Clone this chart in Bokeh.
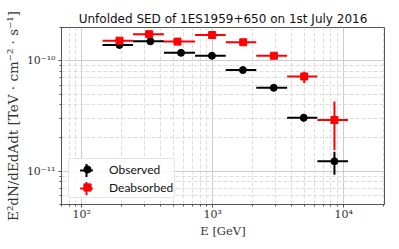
from bokeh.plotting import figure
from bokeh.models import Range1d, FixedTicker, CustomJSTickFormatter, Legend, LegendItem
from bokeh.embed import file_html
from bokeh.resources import INLINE

# ---- data ----
energy_obs = [194, 334, 573, 986, 1700, 2925, 4955, 8500]
energy_deabs = [194, 327, 538, 990, 1710, 2930, 5000, 8500]
e_low = [144, 246, 424, 733, 1257, 2150, 3700, 6300]
e_high = [246, 424, 733, 1257, 2150, 3700, 6300, 10800]

flux_obs = [1.39e-10, 1.50e-10, 1.18e-10, 1.11e-10, 8.23e-11, 5.69e-11, 3.05e-11, 1.23e-11]
flux_obs_low = [1.35e-10, 1.46e-10, 1.15e-10, 1.08e-10, 8.0e-11, 5.5e-11, 2.8e-11, 9.3e-12]
flux_obs_high = [1.43e-10, 1.54e-10, 1.21e-10, 1.14e-10, 8.45e-11, 5.9e-11, 3.3e-11, 1.50e-11]

flux_deabs = [1.52e-10, 1.74e-10, 1.49e-10, 1.71e-10, 1.47e-10, 1.11e-10, 7.21e-11, 2.91e-11]
flux_deabs_low = [1.47e-10, 1.69e-10, 1.45e-10, 1.66e-10, 1.42e-10, 1.04e-10, 6.3e-11, 1.55e-11]
flux_deabs_high = [1.57e-10, 1.79e-10, 1.53e-10, 1.76e-10, 1.52e-10, 1.18e-10, 7.94e-11, 4.27e-11]

x_tick_labels = {"2": "10²", "3": "10³", "4": "10⁴"}
y_tick_labels = {"-11": "10⁻¹¹", "-10": "10⁻¹⁰"}

series_labels = ["Observed", "Deabsorbed"]
title_text = "Unfolded SED of 1ES1959+650 on 1st July 2016"
x_label = "E [GeV]"
y_label = "E²dN/dEdAdt [TeV · cm⁻² · s⁻¹]"

# ---- figure ----
p = figure(frame_width=323, frame_height=177, x_axis_type="log", y_axis_type="log",
           x_range=Range1d(70, 2.05e4), y_range=Range1d(5e-12, 2e-10),
           output_backend="svg", toolbar_location=None,
           min_border_left=61, min_border_right=14, min_border_top=27, min_border_bottom=44)

p.title.text = title_text
p.title.align = "center"
p.title.text_font = "DejaVu Sans"
p.title.text_font_size = "12px"
p.title.text_font_style = "normal"
p.title.text_color = "#111111"
p.title.standoff = 3

p.outline_line_color = "#555555"
p.outline_line_width = 1

x_major = [1e2, 1e3, 1e4]
x_minor = [m * 10 ** k for k in range(1, 5) for m in range(2, 10)]
y_major = [1e-11, 1e-10]
y_minor = [m * 10.0 ** k for k in range(-12, -9) for m in range(2, 10)]

p.xaxis.ticker = FixedTicker(ticks=x_major, minor_ticks=x_minor)
p.yaxis.ticker = FixedTicker(ticks=y_major, minor_ticks=y_minor)
p.xaxis.formatter = CustomJSTickFormatter(args=dict(labels=x_tick_labels),
    code="const k = String(Math.round(Math.log10(tick))); return labels[k] || '';")
p.yaxis.formatter = CustomJSTickFormatter(args=dict(labels=y_tick_labels),
    code="const k = String(Math.round(Math.log10(tick))); return labels[k] || '';")

for ax in (p.xaxis, p.yaxis):
    ax.major_label_text_font = "DejaVu Serif"
    ax.major_label_text_font_size = "11px"
    ax.major_label_text_color = "#333333"
    ax.axis_label_text_font = "DejaVu Serif"
    ax.axis_label_text_font_style = "normal"
    ax.axis_label_text_color = "#333333"
    ax.axis_line_color = "#555555"
    ax.major_tick_line_color = "#555555"
    ax.minor_tick_line_color = "#555555"
    ax.major_tick_out = 3
    ax.major_tick_in = 0
    ax.minor_tick_out = 2
    ax.minor_tick_in = 0
    ax.major_label_standoff = 3
    ax.axis_label_standoff = 3

p.xaxis.major_label_standoff = 0
p.xaxis.axis_label_standoff = 0

p.xaxis.axis_label = x_label
p.xaxis.axis_label_text_font_size = "11.5px"
p.yaxis.axis_label = y_label
p.yaxis.axis_label_text_font_size = "13.5px"

for g in (p.xgrid, p.ygrid):
    g.grid_line_color = "#cccccc"
    g.grid_line_width = 1
    g.minor_grid_line_color = "#dddddd"
    g.minor_grid_line_dash = "4 2"
    g.minor_grid_line_width = 1

# ---- observed ----
p.segment(x0=e_low, y0=flux_obs, x1=e_high, y1=flux_obs, line_color="black", line_width=2)
p.segment(x0=energy_obs, y0=flux_obs_low, x1=energy_obs, y1=flux_obs_high, line_color="black", line_width=2)
obs_pts = p.scatter(energy_obs, flux_obs, marker="circle", size=7, color="black")

# ---- deabsorbed ----
p.segment(x0=e_low, y0=flux_deabs, x1=e_high, y1=flux_deabs, line_color="red", line_width=2)
p.segment(x0=energy_deabs, y0=flux_deabs_low, x1=energy_deabs, y1=flux_deabs_high, line_color="red", line_width=2)
deabs_pts = p.scatter(energy_deabs, flux_deabs, marker="square", size=7, color="red")

# legend-only glyphs: a cross (error-bar look), NaN data so nothing is drawn in the plot
nan = float("nan")
obs_cross = p.scatter(x=[nan], y=[nan], marker="cross", size=13, line_width=2, line_color="black")
deabs_cross = p.scatter(x=[nan], y=[nan], marker="cross", size=13, line_width=2, line_color="red")

legend = Legend(items=[
    LegendItem(label=series_labels[0], renderers=[obs_pts]),
    LegendItem(label=series_labels[1], renderers=[deabs_pts]),
], location=(7, 6))
legend.label_text_font = "Lato"
legend.label_text_font_size = "12px"
legend.label_text_color = "#111111"
legend.border_line_color = "#cccccc"
legend.background_fill_alpha = 0.85
legend.margin = 0
legend.padding = 1
legend.spacing = 0
legend.glyph_width = 34
legend.glyph_height = 18
legend.label_height = 18
legend.label_standoff = 5
try:
    legend.border_radius = 3
except Exception:
    pass
p.add_layout(legend)


def cross_legend(renderer, loc):
    lg = Legend(items=[LegendItem(label=" ", renderers=[renderer])], location=loc)
    lg.margin = 0
    lg.padding = 0
    lg.spacing = 0
    lg.glyph_width = 32
    lg.glyph_height = 32
    lg.label_height = 32
    lg.label_standoff = 0
    lg.label_text_font_size = "2px"
    lg.border_line_color = None
    lg.background_fill_alpha = 0
    return lg


p.add_layout(cross_legend(obs_cross, (9, 18)))
p.add_layout(cross_legend(deabs_cross, (9, 0)))

open("out.html", "w").write(file_html(p, INLINE))
